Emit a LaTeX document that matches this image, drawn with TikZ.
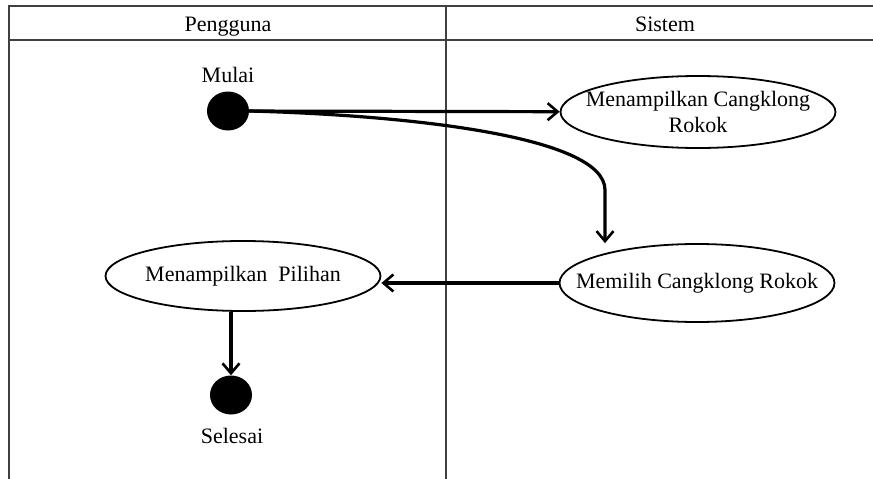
\documentclass[tikz,border=0pt]{standalone}
\usepackage{fontspec}
\setmainfont{Liberation Serif}
\usetikzlibrary{arrows.meta,shapes.geometric}

\tikzset{
  lane/.style={draw=black!75, line width=1.2pt},
  act/.style={ellipse, draw, line width=1.8pt, minimum width=275pt, minimum height=72pt, inner sep=0pt},
  dot/.style={ellipse, fill=black, minimum width=42pt, minimum height=39pt, inner sep=0pt},
  txt/.style={font=\fontsize{22}{26}\selectfont, inner sep=0.75pt, align=center},
  flow/.style={line width=3.2pt, -{Straight Barb[length=10pt,width=17pt,line width=2.6pt]}}
}

\begin{document}
\begin{tikzpicture}[x=1pt,y=1pt,yscale=-1,xscale=1]
\useasboundingbox (0,0) rectangle (873,479);

%Swimlane frame
\draw[lane] (873,6) -- (9,6) -- (9,479);
\draw[lane] (9,40) -- (873,40);
\draw[lane] (446,6) -- (446,479);

% Text Node
\node[txt, anchor=base] (pengguna) at (228,31) {Pengguna};
% Text Node
\node[txt, anchor=base] (sistem) at (665,31) {Sistem};

%Shape: Circle
\node[dot] (mulai) at (228,111) {};
% Text Node
\node[txt, anchor=base] (lblmulai) at (228,82) {Mulai};

%Shape: Ellipse
\node[act] (tampil) at (698,112) {};
\node[txt] (lbltampil) at (tampil) {Menampilkan Cangklong\\Rokok};
%Shape: Ellipse
\node[act, minimum height=78pt] (pilih) at (697,283) {};
\node[txt] (lblpilih) at (pilih) {Memilih Cangklong Rokok};
%Shape: Ellipse
\node[act, minimum height=70pt] (opsi) at (243,276) {};
\node[txt] (lblopsi) at (opsi) {Menampilkan\ \ Pilihan};

%Shape: Circle
\node[dot] (selesai) at (231,395) {};
% Text Node
\node[txt, anchor=base] (lblselesai) at (232,443) {Selesai};

%Straight Lines
\draw[flow] (mulai) -- (tampil);
%Curve Lines
\coordinate (belok) at (605,190);
\draw[flow] (mulai.east) .. controls (400,115) and (605,135) .. (belok) -- (belok |- pilih.north);
%Straight Lines
\draw[flow] (pilih.west) -- (pilih.west -| opsi.east);
%Straight Lines
\draw[flow] (selesai.north |- opsi.south) -- (selesai.north);

\end{tikzpicture}
\end{document}
